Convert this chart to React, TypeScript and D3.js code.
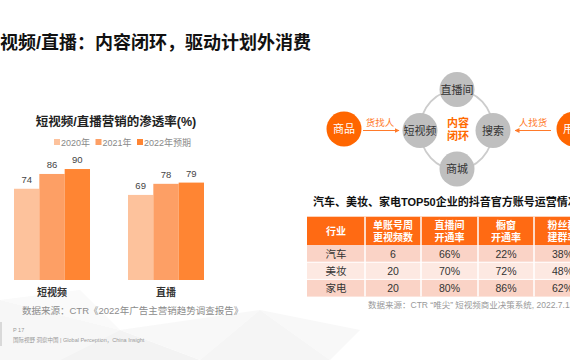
import React from "react";
import * as d3 from "d3";

const categories = ["短视频", "直播"];
const seriesNames = ["2020年", "2021年", "2022年预期"];
const values2020 = [74, 69];
const values2021 = [86, 78];
const values2022 = [90, 79];
const seriesColors = ["#FDC29C", "#FD9F65", "#FF8533"];

const tableHeaders = [["行业"], ["单账号周", "更视频数"], ["直播间", "开通率"], ["橱窗", "开通率"], ["粉丝群", "建群率"]];
const tableIndustries = ["汽车", "美妆", "家电"];
const tableVideoCount = ["6", "20", "20"];
const tableLiveRate = ["66%", "70%", "80%"];
const tableShowcaseRate = ["22%", "72%", "86%"];
const tableFanRate = ["38%", "48%", "62%"];

const loopNodes = [
  { name: "直播间", x: 457, y: 89.5 },
  { name: "短视频", x: 420, y: 130.5 },
  { name: "搜索", x: 493, y: 130.5 },
  { name: "商城", x: 457, y: 169 },
];

const FONT = "'Liberation Sans', 'Noto Sans CJK SC', sans-serif";

export default function App() {
  const seriesValues = [values2020, values2021, values2022];
  const x0 = d3.scaleBand<string>().domain(categories).range([14, 204]).paddingInner(0.3333).paddingOuter(0);
  const x1 = d3.scaleBand<string>().domain(seriesNames).range([0, x0.bandwidth()]).padding(0);
  const y = d3.scaleLinear().domain([0, 100]).range([280, 156.7]);

  const colX = [307, 365, 421, 478, 534, 591];
  const headerY0 = 216.7, headerY1 = 245;
  const rowH = 17.2;
  const rowsData = tableIndustries.map((ind, i) => [ind, tableVideoCount[i], tableLiveRate[i], tableShowcaseRate[i], tableFanRate[i]]);
  const rowFills = ["#FAD3C6", "#FDE9E2", "#FAD3C6"];

  return (
    <svg width={570} height={360} style={{ position: "absolute", left: 0, top: 0, background: "#fff" }} fontFamily={FONT}>
      <defs>
        <marker id="arr" viewBox="0 0 10 10" refX="9" refY="5" markerWidth="5" markerHeight="5" orient="auto-start-reverse">
          <path d="M0,0 L10,5 L0,10 z" fill="#FF7A2A" />
        </marker>
      </defs>
      {/* background low-poly */}
      <g opacity={0.6}>
        <polygon points="0,360 0,300 120,330 60,360" fill="#f2f2f2" />
        <polygon points="60,360 120,330 200,360" fill="#ececec" />
        <polygon points="120,330 260,310 200,360" fill="#f5f5f5" />
        <polygon points="200,360 260,310 330,360" fill="#efefef" />
        <polygon points="0,300 80,290 120,330" fill="#f7f7f7" />
        <polygon points="260,310 360,330 330,360" fill="#f4f4f4" />
      </g>
      <rect x={0} y={322} width={2} height={24} fill="#d9d9d9" />

      {/* main title */}
      <text x={0} y={49} fontSize={18} fontWeight="bold" fill="#111">视频/直播：内容闭环，驱动计划外消费</text>

      {/* chart title */}
      <text x={116} y={126} textAnchor="middle" fontSize={12.5} fontWeight="bold" fill="#222">短视频/直播营销的渗透率(%)</text>

      {/* legend */}
      {seriesNames.map((s, i) => {
        const lx = [54, 95.5, 137][i];
        return (
          <g key={s}>
            <rect x={lx} y={139} width={6} height={6} fill={seriesColors[i]} />
            <text x={lx + 7} y={145.5} fontSize={9} fill="#888">{s}</text>
          </g>
        );
      })}

      {/* bars */}
      {categories.map((c, ci) => (
        <g key={c} transform={`translate(${x0(c)},0)`}>
          {seriesNames.map((s, si) => {
            const v = seriesValues[si][ci];
            return (
              <g key={s}>
                <rect x={x1(s)} y={y(v)} width={x1.bandwidth()} height={y(0) - y(v)} fill={seriesColors[si]} />
                <text x={(x1(s) as number) + x1.bandwidth() / 2} y={y(v) - 6} textAnchor="middle" fontSize={9.5} fill="#444">{v}</text>
              </g>
            );
          })}
          <text x={x0.bandwidth() / 2} y={295.5} textAnchor="middle" fontSize={10} fontWeight="bold" fill="#333">{c}</text>
        </g>
      ))}

      <text x={22} y={313.5} fontSize={9.5} fill="#8c8c8c">数据来源：CTR《2022年广告主营销趋势调查报告》</text>
      <text x={13} y={332} fontSize={5.5} fill="#999">P 17</text>
      <text x={13} y={342} fontSize={5.5} fill="#999">国际视野  洞察中国 | Global Perception，China Insight</text>

      {/* loop diagram */}
      <ellipse cx={456.5} cy={129.8} rx={36.5} ry={39.7} fill="none" stroke="#CCCCCC" strokeWidth={1.8} />
      {loopNodes.map((n) => (
        <g key={n.name}>
          <circle cx={n.x} cy={n.y} r={17.5} fill="#BFBFBF" />
          <text x={n.x} y={n.y + 4} textAnchor="middle" fontSize={11} fill="#333">{n.name}</text>
        </g>
      ))}
      <text x={458} y={126.5} textAnchor="middle" fontSize={11} fontWeight="bold" fill="#FF6A00">内容</text>
      <text x={458} y={139.5} textAnchor="middle" fontSize={11} fontWeight="bold" fill="#FF6A00">闭环</text>

      <circle cx={344} cy={129} r={17.5} fill="#FF6600" />
      <text x={344} y={133} textAnchor="middle" fontSize={11} fill="#fff">商品</text>
      <circle cx={574} cy={129} r={17.5} fill="#FF6600" />
      <text x={574} y={133} textAnchor="middle" fontSize={11} fill="#fff">用户</text>

      <line x1={363} y1={130.5} x2={399} y2={130.5} stroke="#FF7A2A" strokeWidth={1} markerEnd="url(#arr)" />
      <text x={380} y={126} textAnchor="middle" fontSize={9.5} fill="#FF7A2A">货找人</text>
      <line x1={551} y1={130.5} x2={515} y2={130.5} stroke="#FF7A2A" strokeWidth={1} markerEnd="url(#arr)" />
      <text x={533} y={126} textAnchor="middle" fontSize={9.5} fill="#FF7A2A">人找货</text>

      {/* table */}
      <text x={313} y={205.5} fontSize={11} fontWeight="bold" fill="#111">汽车、美妆、家电TOP50企业的抖音官方账号运营情况</text>
      <rect x={colX[0]} y={headerY0} width={colX[5] - colX[0]} height={headerY1 - headerY0} fill="#FF6A13" />
      {tableHeaders.map((h, i) => {
        const cx = (colX[i] + colX[i + 1]) / 2;
        return (
          <text key={i} x={cx} textAnchor="middle" fontSize={10} fontWeight="bold" fill="#fff">
            {h.length === 1 ? (
              <tspan x={cx} y={234.5}>{h[0]}</tspan>
            ) : (
              h.map((t, j) => <tspan key={j} x={cx} y={228.5 + j * 12}>{t}</tspan>)
            )}
          </text>
        );
      })}
      {rowsData.map((r, ri) => (
        <g key={ri}>
          <rect x={colX[0]} y={headerY1 + ri * rowH} width={colX[5] - colX[0]} height={rowH} fill={rowFills[ri]} />
          {r.map((v, ci) => (
            <text key={ci} x={(colX[ci] + colX[ci + 1]) / 2} y={headerY1 + ri * rowH + 12.5} textAnchor="middle" fontSize={10.5} fill="#333">{v}</text>
          ))}
        </g>
      ))}
      {colX.slice(1, 5).map((cx, i) => (
        <line key={i} x1={cx} x2={cx} y1={headerY0} y2={headerY1 + 3 * rowH} stroke="#fff" strokeWidth={1.5} />
      ))}
      {[1, 2].map((i) => (
        <line key={i} x1={colX[0]} x2={colX[5]} y1={headerY1 + i * rowH} y2={headerY1 + i * rowH} stroke="#fff" strokeWidth={1} />
      ))}
      <text x={368} y={308} fontSize={8.5} fill="#999">数据来源：CTR “唯尖” 短视频商业决策系统, 2022.7.13-7.19</text>
    </svg>
  );
}
